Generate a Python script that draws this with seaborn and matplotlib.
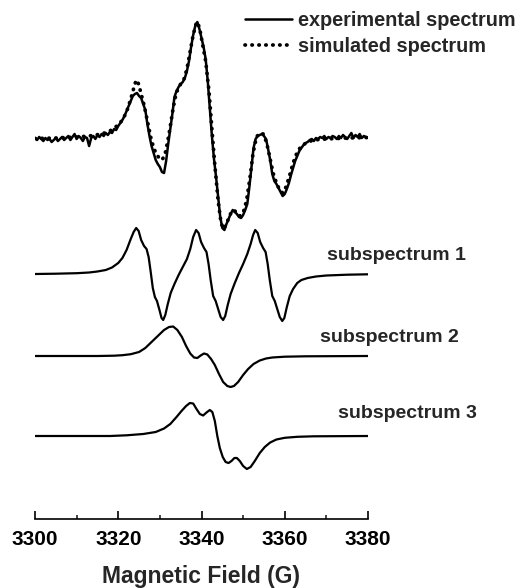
import numpy as np
import pandas as pd
import seaborn as sns
import matplotlib.pyplot as plt

# ------------------------------------------------
# Data (signal amplitude relative to each baseline, arbitrary units)
# ------------------------------------------------
exp_field = np.arange(3300, 3380.5, 0.5)
exp_signal = [
    1, -1, 2, 0, -2, 1, -1, 0, -3, -1,
    1, -2, 0, 2, -1, 1, 3, -1, 2, 5,
    0, 3, 1, -2, 2, 1, -7, 1, 3, 0,
    4, 2, 5, 3, 6, 4, 7, 6, 10, 9,
    13, 16, 19, 23, 28, 33, 38, 43, 45, 46,
    43, 41, 35, 29, 15, 3, -7, -14, -21, -25,
    -28, -33, -34, -22, -5, 10, 25, 42, 48, 52,
    55, 57, 61, 68, 78, 92, 104, 113, 117, 110,
    101, 92, 80, 58, 30, 3, -20, -38, -58, -78,
    -89, -91, -85, -80, -75, -71, -73, -75, -78, -79,
    -76, -71, -65, -48, -28, -9, 0, 3, 4, 5,
    3, 0, -10, -21, -35, -42, -45, -49, -53, -57,
    -55, -50, -44, -36, -29, -22, -17, -12, -9, -6,
    -4, -3, -1, 0, -2, 1, 0, 2, 1, 3,
    0, 2, 1, 3, 2, 0, 3, 1, 4, 2,
    0, 3, 6, 1, 4, 2, 5, 1, 3, 2,
    1,
]

sim_field = [3300, 3305, 3310, 3313, 3316, 3318, 3320, 3321, 3322, 3323,
             3323.8, 3324.3, 3324.9, 3325.5, 3326.2, 3327, 3328, 3329, 3329.8, 3330.5,
             3331.2, 3331.8, 3332.4, 3333, 3333.6, 3334.3, 3335, 3335.8, 3336.5, 3337.2,
             3338, 3338.8, 3339.5, 3340.2, 3341, 3341.8, 3342.5, 3343.2, 3344, 3344.7,
             3345.3, 3346, 3346.8, 3347.6, 3348.4, 3349.2, 3350, 3350.8, 3351.6, 3352.4,
             3353.2, 3354, 3354.8, 3355.6, 3356.4, 3357.2, 3358, 3358.8, 3359.5, 3360.3,
             3361.2, 3362, 3363, 3364, 3365.5, 3367, 3370, 3375, 3380]
sim_signal = [0.5, 1, 2, 3, 5, 8, 14, 19, 27, 40,
              52, 59, 55, 45, 34, 18, -2, -14, -19, -21,
              -16, -4, 10, 26, 40, 50, 55, 60, 70, 86,
              104, 117, 112, 96, 78, 48, 10, -26, -62, -84,
              -90, -85, -76, -71, -73, -77, -74, -62, -40, -14,
              2, 6, 5, -3, -18, -34, -44, -51, -54, -48,
              -36, -24, -13, -7, -3, -1, 0, 1, 1.5]

sub1_field = [3300, 3305, 3310, 3313, 3315, 3317, 3318.5, 3320, 3321, 3322,
              3323, 3323.7, 3324.3, 3324.9, 3325.5, 3326.2, 3326.8, 3327.3, 3327.8, 3328.3,
              3328.8, 3329.3, 3329.9, 3330.4, 3330.8, 3331.3, 3331.9, 3332.6, 3333.5, 3334.5,
              3335.5, 3336.5, 3337.3, 3338.0, 3338.7, 3339.3, 3339.9, 3340.6, 3341.2, 3341.7,
              3342.2, 3342.8, 3343.4, 3344.0, 3344.6, 3345.2, 3345.7, 3346.3, 3347.0, 3348.0,
              3349.0, 3350.0, 3351.0, 3351.8, 3352.4, 3352.9, 3353.5, 3354.1, 3354.8, 3355.4,
              3355.9, 3356.4, 3357.0, 3357.6, 3358.2, 3358.8, 3359.4, 3359.9, 3360.5, 3361.2,
              3362.0, 3363.0, 3364.0, 3365.5, 3367.5, 3370, 3375, 3380]
sub1_signal = [0, 0.3, 0.8, 1.5, 2.5, 4, 6.5, 11, 16, 24,
               35, 42, 46, 43, 34, 28, 25, 17, 2, -14,
               -23, -27, -36, -44, -46, -41, -30, -19, -10, -1,
               7, 15, 25, 37, 44, 41, 32, 26, 22, 10,
               -6, -22, -27, -35, -43, -46, -42, -31, -20, -9,
               1, 10, 20, 30, 39, 44, 41, 32, 26, 22,
               10, -6, -22, -27, -35, -43, -47, -44, -33, -22,
               -15, -9, -6, -4, -2.5, -1.5, -0.7, -0.3]

sub2_field = [3300, 3315, 3319, 3321, 3323, 3325, 3326.5, 3328, 3329.5, 3331,
              3332.2, 3333.2, 3334.2, 3335.3, 3336.3, 3337.3, 3338.2, 3339.0, 3339.8, 3340.6,
              3341.4, 3342.3, 3343.2, 3344.2, 3345.2, 3346.2, 3347.0, 3347.8, 3348.8, 3350,
              3351.2, 3352.5, 3354, 3355.5, 3357, 3360, 3365, 3380]
sub2_signal = [0, 0, 0.3, 0.8, 1.8, 4, 8, 14, 20, 26,
               29, 29.5, 26, 19, 10, 2.5, -1.5, -2, 0.5, 2.5,
               1.5, -3, -9, -18, -26, -30, -31, -30, -26, -19,
               -13, -8, -4.5, -2.5, -1.5, -0.7, -0.3, 0]

sub3_field = [3300, 3318, 3322, 3326, 3329, 3331, 3332.5, 3334, 3335.2, 3336.3,
              3337.2, 3338, 3338.8, 3339.6, 3340.4, 3341.2, 3342, 3342.6, 3343.2, 3343.8,
              3344.4, 3345.1, 3345.8, 3346.5, 3347.2, 3347.9, 3348.5, 3349.2, 3350, 3350.9,
              3351.8, 3352.8, 3354, 3355.2, 3356.5, 3358, 3360, 3363, 3367, 3380]
sub3_signal = [0, 0, 0.7, 2, 4, 7.5, 12, 19, 25, 30,
               33, 32.5, 27, 22, 20.5, 23.5, 26, 24, 15, 0,
               -12, -21, -26, -27, -25, -22, -22, -25, -30, -33,
               -31, -25, -17, -11, -6.5, -3.5, -1.8, -0.8, -0.3, 0]

# vertical offsets of each trace
offsets = {"exp": 380, "sim": 380, "sub1": 245, "sub2": 163, "sub3": 83}

sub_labels = ["subspectrum 1", "subspectrum 2", "subspectrum 3"]
sub_label_pos = [(3370.2, 264), (3368.5, 182), (3372.8, 105)]

# ------------------------------------------------
# Style
# ------------------------------------------------
sns.set_theme(style="white")
plt.rcParams["font.family"] = ["Liberation Sans", "DejaVu Sans"]
plt.rcParams["font.weight"] = "bold"
plt.rcParams["axes.labelweight"] = "bold"

fig = plt.figure(figsize=(5.19, 5.88), dpi=100)
ax = fig.add_axes([35 / 519, 69 / 588, 333 / 519, 519 / 588])

def frame(field, signal, key):
    return pd.DataFrame({"field": field, "y": np.asarray(signal) + offsets[key]})

sns.lineplot(data=frame(exp_field, exp_signal, "exp"), x="field", y="y", ax=ax,
             color="black", lw=1.8, sort=False, label="experimental spectrum")
sns.lineplot(data=frame(sim_field, sim_signal, "sim"), x="field", y="y", ax=ax,
             color="black", lw=2.7, sort=False, linestyle=(0, (0.1, 1.75)),
             dash_capstyle="round", label="simulated spectrum")
for key, f, s in [("sub1", sub1_field, sub1_signal),
                  ("sub2", sub2_field, sub2_signal),
                  ("sub3", sub3_field, sub3_signal)]:
    sns.lineplot(data=frame(f, s, key), x="field", y="y", ax=ax,
                 color="black", lw=1.6, sort=False)

for txt, (xx, yy) in zip(sub_labels, sub_label_pos):
    ax.text(xx, yy, txt, ha="left", va="center", fontsize=14, fontweight="bold")

ax.set_xlim(3300, 3380)
ax.set_ylim(0, 519)
ax.set_xticks(range(3300, 3381, 20))
ax.set_xticks(range(3310, 3380, 20), minor=True)
ax.set_yticks([])
ax.tick_params(axis="x", which="major", direction="in", length=5.8, width=1.2,
               pad=7.8, labelsize=15, bottom=True, colors="black")
ax.tick_params(axis="x", which="minor", direction="in", length=2.6, width=1.2,
               bottom=True)
for s in ["left", "top", "right"]:
    ax.spines[s].set_visible(False)
ax.spines["bottom"].set_linewidth(1.2)
ax.spines["bottom"].set_color("black")
ax.set_xlabel("Magnetic Field (G)", fontsize=16.5, labelpad=11.5)
ax.set_ylabel("")

ax.legend(loc="upper left", bbox_to_anchor=(245 / 519, 0.982),
          bbox_transform=fig.transFigure, frameon=False, fontsize=14.3,
          handlelength=2.35, handletextpad=0.3, labelspacing=0.36,
          borderpad=0, borderaxespad=0)

fig.savefig("out.png", dpi=100)
